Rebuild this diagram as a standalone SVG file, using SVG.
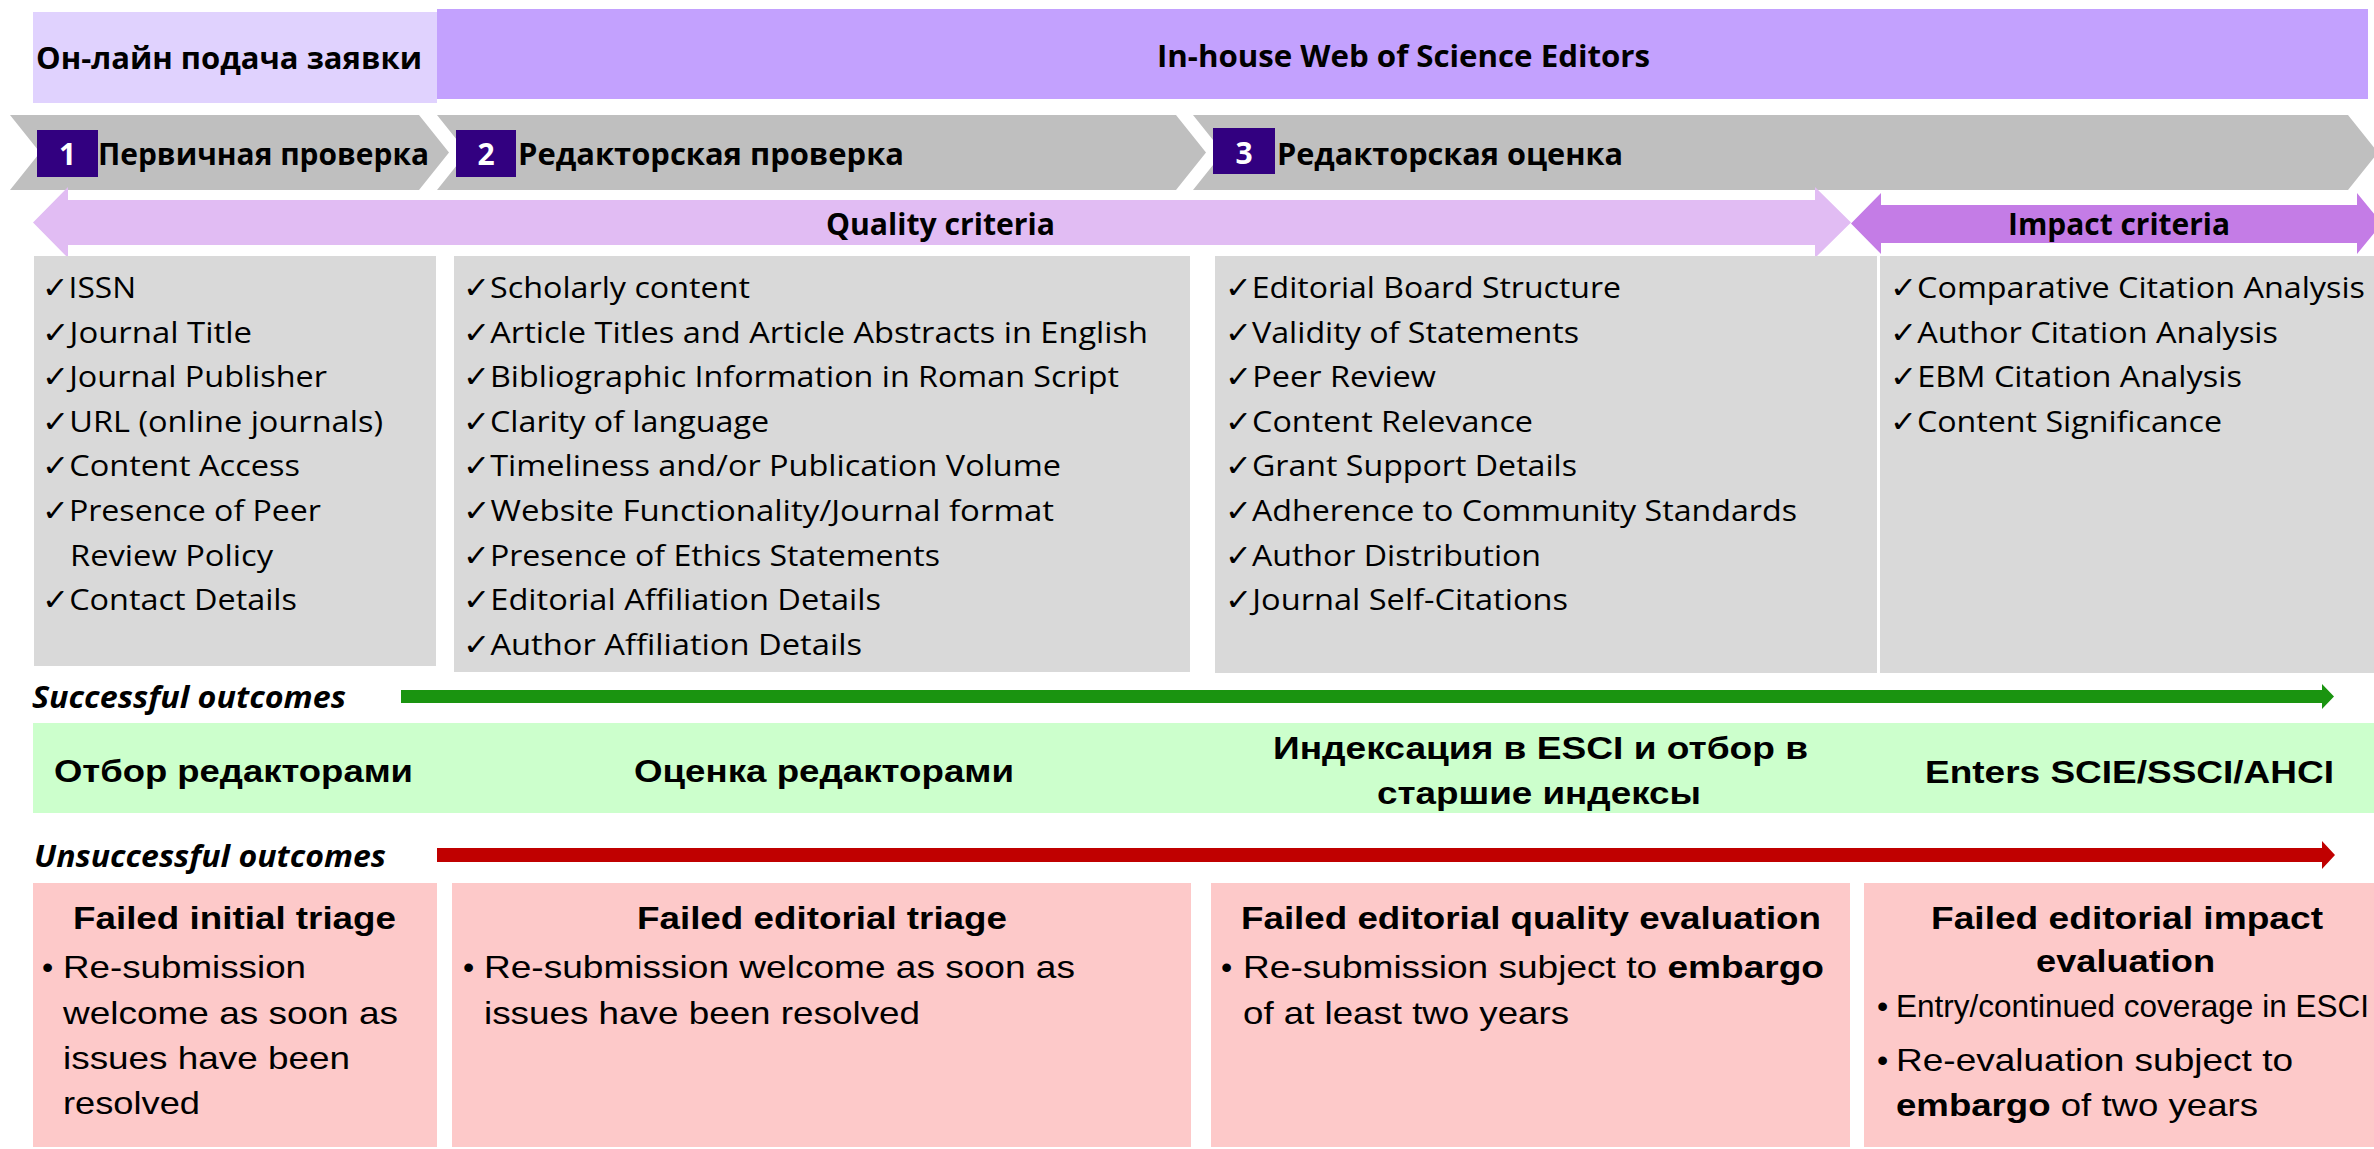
<svg xmlns="http://www.w3.org/2000/svg" width="2374" height="1149" viewBox="0 0 2374 1149">
<style>
.cb{font-family:'Open Sans','DejaVu Sans',sans-serif;font-weight:700;font-size:30px;fill:#000}
.cr{font-family:'Open Sans','DejaVu Sans',sans-serif;font-weight:400;font-size:30px;fill:#000}
.ci{font-family:'Open Sans',sans-serif;font-weight:700;font-style:italic;font-size:30px;fill:#000}
.num{font-family:'Open Sans',sans-serif;font-weight:700;font-size:30px;fill:#fff}
.ab{font-family:'Liberation Sans',Arial,sans-serif;font-weight:700;font-size:32px;fill:#000}
.ar{font-family:'Liberation Sans',Arial,sans-serif;font-weight:400;font-size:32px;fill:#000}
.chev{fill:#bfbfbf}
.nbox{fill:#320080}
.gbox{fill:#d9d9d9}
.pbox{fill:#fdc9c9}
</style>
<g id="online-submission">
<rect x="33" y="12" width="404" height="91" fill="#e0d2fe"/>
<text class="cb" x="36" y="69" textLength="386" lengthAdjust="spacingAndGlyphs">Он-лайн подача заявки</text>
</g>
<g id="wos-editors">
<rect x="437" y="9" width="1931" height="90" fill="#c3a1fe"/>
<text class="cb" x="1157" y="67" textLength="493" lengthAdjust="spacingAndGlyphs">In-house Web of Science Editors</text>
</g>
<g id="step1">
<polygon class="chev" points="10,115 419,115 449,152.5 419,190 10,190 40,152.5"/>
<rect class="nbox" x="37" y="130" width="61" height="47"/>
<text class="num" x="67.5" y="165" text-anchor="middle">1</text>
<text class="cb" x="98" y="165" textLength="331" lengthAdjust="spacingAndGlyphs">Первичная проверка</text>
</g>
<g id="step2">
<polygon class="chev" points="437,115 1176,115 1206,152.5 1176,190 437,190 467,152.5"/>
<rect class="nbox" x="456" y="130" width="60" height="47"/>
<text class="num" x="486" y="165" text-anchor="middle">2</text>
<text class="cb" x="518" y="165" textLength="386" lengthAdjust="spacingAndGlyphs">Редакторская проверка</text>
</g>
<g id="step3">
<polygon class="chev" points="1193,115 2348,115 2378,152.5 2348,190 1193,190 1223,152.5"/>
<rect class="nbox" x="1213" y="128" width="62" height="46"/>
<text class="num" x="1244" y="164" text-anchor="middle">3</text>
<text class="cb" x="1277" y="165" textLength="346" lengthAdjust="spacingAndGlyphs">Редакторская оценка</text>
</g>
<g id="quality-criteria">
<polygon fill="#e1bcf3" points="33,222.5 68,187 68,200 1815,200 1815,187 1851,222.5 1815,258 1815,245 68,245 68,258"/>
<text class="cb" x="826" y="235" textLength="229" lengthAdjust="spacingAndGlyphs">Quality criteria</text>
</g>
<g id="impact-criteria">
<polygon fill="#c47ce6" points="1851,223.5 1881,193 1881,205 2357,205 2357,193 2382,223.5 2357,254 2357,243 1881,243 1881,254"/>
<text class="cb" x="2008" y="235" textLength="222" lengthAdjust="spacingAndGlyphs">Impact criteria</text>
</g>
<g id="criteria-initial">
<rect class="gbox" x="34" y="256" width="402" height="410"/>
<text class="cr" x="42" y="298" textLength="94" lengthAdjust="spacingAndGlyphs">✓ISSN</text>
<text class="cr" x="42" y="342.6" textLength="210" lengthAdjust="spacingAndGlyphs">✓Journal Title</text>
<text class="cr" x="42" y="387.2" textLength="285" lengthAdjust="spacingAndGlyphs">✓Journal Publisher</text>
<text class="cr" x="42" y="431.8" textLength="341" lengthAdjust="spacingAndGlyphs">✓URL (online journals)</text>
<text class="cr" x="42" y="476.4" textLength="258" lengthAdjust="spacingAndGlyphs">✓Content Access</text>
<text class="cr" x="42" y="521" textLength="279" lengthAdjust="spacingAndGlyphs">✓Presence of Peer</text>
<text class="cr" x="70" y="565.6" textLength="203" lengthAdjust="spacingAndGlyphs">Review Policy</text>
<text class="cr" x="42" y="610.2" textLength="255" lengthAdjust="spacingAndGlyphs">✓Contact Details</text>
</g>
<g id="criteria-triage">
<rect class="gbox" x="454" y="256" width="736" height="416"/>
<text class="cr" x="463" y="298" textLength="287" lengthAdjust="spacingAndGlyphs">✓Scholarly content</text>
<text class="cr" x="463" y="342.6" textLength="685" lengthAdjust="spacingAndGlyphs">✓Article Titles and Article Abstracts in English</text>
<text class="cr" x="463" y="387.2" textLength="656" lengthAdjust="spacingAndGlyphs">✓Bibliographic Information in Roman Script</text>
<text class="cr" x="463" y="431.8" textLength="306" lengthAdjust="spacingAndGlyphs">✓Clarity of language</text>
<text class="cr" x="463" y="476.4" textLength="598" lengthAdjust="spacingAndGlyphs">✓Timeliness and/or Publication Volume</text>
<text class="cr" x="463" y="521" textLength="591" lengthAdjust="spacingAndGlyphs">✓Website Functionality/Journal format</text>
<text class="cr" x="463" y="565.6" textLength="477" lengthAdjust="spacingAndGlyphs">✓Presence of Ethics Statements</text>
<text class="cr" x="463" y="610.2" textLength="418" lengthAdjust="spacingAndGlyphs">✓Editorial Affiliation Details</text>
<text class="cr" x="463" y="654.8" textLength="399" lengthAdjust="spacingAndGlyphs">✓Author Affiliation Details</text>
</g>
<g id="criteria-quality">
<rect class="gbox" x="1215" y="256" width="662" height="417"/>
<text class="cr" x="1225" y="298" textLength="396" lengthAdjust="spacingAndGlyphs">✓Editorial Board Structure</text>
<text class="cr" x="1225" y="342.6" textLength="354" lengthAdjust="spacingAndGlyphs">✓Validity of Statements</text>
<text class="cr" x="1225" y="387.2" textLength="211" lengthAdjust="spacingAndGlyphs">✓Peer Review</text>
<text class="cr" x="1225" y="431.8" textLength="308" lengthAdjust="spacingAndGlyphs">✓Content Relevance</text>
<text class="cr" x="1225" y="476.4" textLength="352" lengthAdjust="spacingAndGlyphs">✓Grant Support Details</text>
<text class="cr" x="1225" y="521" textLength="572" lengthAdjust="spacingAndGlyphs">✓Adherence to Community Standards</text>
<text class="cr" x="1225" y="565.6" textLength="316" lengthAdjust="spacingAndGlyphs">✓Author Distribution</text>
<text class="cr" x="1225" y="610.2" textLength="343" lengthAdjust="spacingAndGlyphs">✓Journal Self-Citations</text>
</g>
<g id="criteria-impact">
<rect class="gbox" x="1880" y="256" width="494" height="417"/>
<text class="cr" x="1890" y="298" textLength="475" lengthAdjust="spacingAndGlyphs">✓Comparative Citation Analysis</text>
<text class="cr" x="1890" y="342.6" textLength="388" lengthAdjust="spacingAndGlyphs">✓Author Citation Analysis</text>
<text class="cr" x="1890" y="387.2" textLength="352" lengthAdjust="spacingAndGlyphs">✓EBM Citation Analysis</text>
<text class="cr" x="1890" y="431.8" textLength="332" lengthAdjust="spacingAndGlyphs">✓Content Significance</text>
</g>
<g id="successful-label">
<text class="ci" x="32" y="708" textLength="314" lengthAdjust="spacingAndGlyphs">Successful outcomes</text>
</g>
<g id="successful-outcomes">
<rect x="33" y="723" width="2341" height="90" fill="#ccffcc"/>
<text class="ab" x="54" y="782" textLength="359" lengthAdjust="spacingAndGlyphs">Отбор редакторами</text>
<text class="ab" x="634" y="782" textLength="380" lengthAdjust="spacingAndGlyphs">Оценка редакторами</text>
<text class="ab" x="1273" y="759" textLength="535" lengthAdjust="spacingAndGlyphs">Индексация в ESCI и отбор в</text>
<text class="ab" x="1377" y="804" textLength="324" lengthAdjust="spacingAndGlyphs">старшие индексы</text>
<text class="ab" x="1925" y="783" textLength="409" lengthAdjust="spacingAndGlyphs">Enters SCIE/SSCI/AHCI</text>
</g>
<g id="unsuccessful-label">
<text class="ci" x="34" y="867" textLength="352" lengthAdjust="spacingAndGlyphs">Unsuccessful outcomes</text>
</g>
<g id="fail-initial">
<rect class="pbox" x="33" y="883" width="404" height="264"/>
<text class="ab" x="73" y="929" textLength="323" lengthAdjust="spacingAndGlyphs">Failed initial triage</text>
<text class="ar" x="42" y="978">•</text>
<text class="ar" x="63" y="978" textLength="243" lengthAdjust="spacingAndGlyphs">Re-submission</text>
<text class="ar" x="63" y="1024" textLength="335" lengthAdjust="spacingAndGlyphs">welcome as soon as</text>
<text class="ar" x="63" y="1069" textLength="287" lengthAdjust="spacingAndGlyphs">issues have been</text>
<text class="ar" x="63" y="1114" textLength="137" lengthAdjust="spacingAndGlyphs">resolved</text>
</g>
<g id="fail-triage">
<rect class="pbox" x="452" y="883" width="739" height="264"/>
<text class="ab" x="637" y="929" textLength="370" lengthAdjust="spacingAndGlyphs">Failed editorial triage</text>
<text class="ar" x="463" y="978">•</text>
<text class="ar" x="484" y="978" textLength="591" lengthAdjust="spacingAndGlyphs">Re-submission welcome as soon as</text>
<text class="ar" x="484" y="1024" textLength="436" lengthAdjust="spacingAndGlyphs">issues have been resolved</text>
</g>
<g id="fail-quality">
<rect class="pbox" x="1211" y="883" width="639" height="264"/>
<text class="ab" x="1241" y="929" textLength="580" lengthAdjust="spacingAndGlyphs">Failed editorial quality evaluation</text>
<text class="ar" x="1221" y="978">•</text>
<text class="ar" x="1243" y="978" textLength="581" lengthAdjust="spacingAndGlyphs">Re-submission subject to <tspan font-weight="700">embargo</tspan></text>
<text class="ar" x="1243" y="1024" textLength="326" lengthAdjust="spacingAndGlyphs">of at least two years</text>
</g>
<g id="fail-impact">
<rect class="pbox" x="1864" y="883" width="510" height="264"/>
<text class="ab" x="1931" y="929" textLength="392" lengthAdjust="spacingAndGlyphs">Failed editorial impact</text>
<text class="ab" x="2036" y="972" textLength="179" lengthAdjust="spacingAndGlyphs">evaluation</text>
<text class="ar" x="1877" y="1017" font-size="26">•</text>
<text class="ar" x="1896" y="1017" font-size="28" textLength="473" lengthAdjust="spacingAndGlyphs">Entry/continued coverage in ESCI</text>
<text class="ar" x="1877" y="1071">•</text>
<text class="ar" x="1896" y="1071" textLength="397" lengthAdjust="spacingAndGlyphs">Re-evaluation subject to</text>
<text class="ar" x="1896" y="1116" textLength="362" lengthAdjust="spacingAndGlyphs"><tspan font-weight="700">embargo</tspan> of two years</text>
</g>
<g id="connectors">
<polygon fill="#1a9410" points="401,690 2322,690 2322,684 2334,696.5 2322,709 2322,703 401,703"/>
<polygon fill="#c00000" points="437,848 2322,848 2322,841 2335,855 2322,869 2322,862 437,862"/>
</g>
</svg>
